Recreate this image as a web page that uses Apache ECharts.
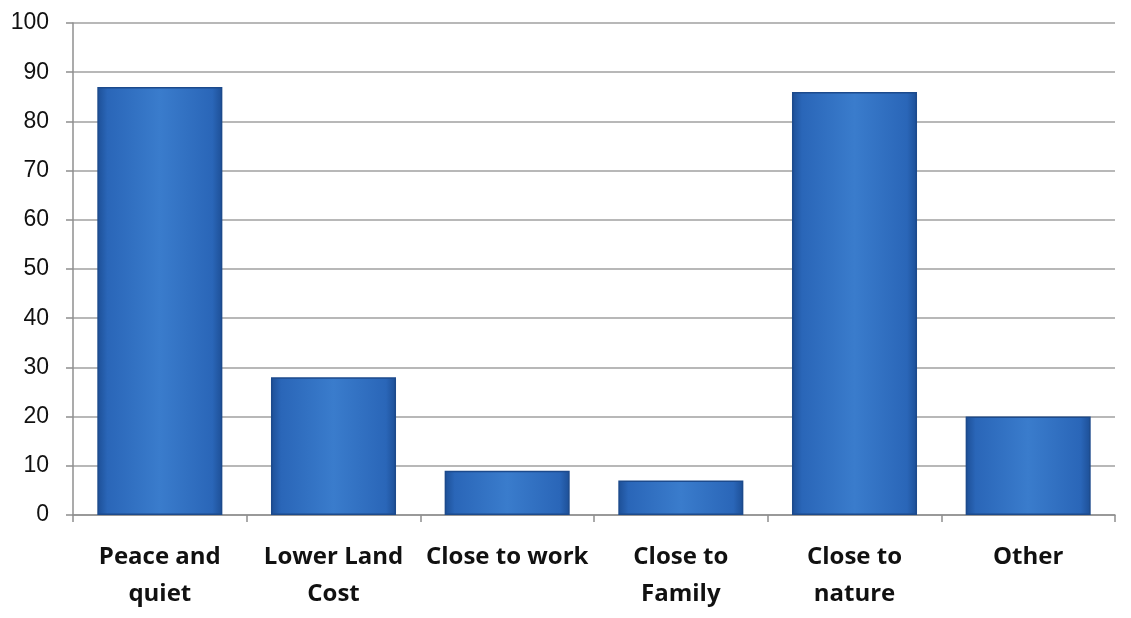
<!DOCTYPE html>
<html>
<head>
<meta charset="utf-8">
<script src="https://cdn.jsdelivr.net/npm/echarts@6/dist/echarts.min.js"></script>
<style>
  html, body { margin: 0; padding: 0; background: #ffffff; }
  #chart { width: 1131px; height: 618px; }
</style>
</head>
<body>
<div id="chart"></div>
<script>
// Reasons given for choosing a place to live
const categories = ['Peace and\nquiet', 'Lower Land\nCost', 'Close to work', 'Close to\nFamily', 'Close to\nnature', 'Other'];
const values = [87, 28, 9, 7, 86, 20];
const yMin = 0;
const yMax = 100;
const yStep = 10;

const chart = echarts.init(document.getElementById('chart'));

const barFill = new echarts.graphic.LinearGradient(0, 0, 1, 0, [
  { offset: 0, color: '#1d4f96' },
  { offset: 0.08, color: '#2a66b8' },
  { offset: 0.5, color: '#3a7ccc' },
  { offset: 0.92, color: '#2a66b8' },
  { offset: 1, color: '#1d4f96' }
]);

chart.setOption({
  animation: false,
  backgroundColor: '#ffffff',
  grid: { left: 73, right: 16, top: 23, bottom: 103, containLabel: false },
  xAxis: {
    type: 'category',
    data: categories,
    axisLine: { show: true, lineStyle: { color: '#8f8f8f', width: 1.5 } },
    axisTick: { show: true, length: 7, lineStyle: { color: '#8f8f8f', width: 1.5 } },
    axisLabel: {
      interval: 0,
      margin: 24,
      color: '#111111',
      fontFamily: '"Liberation Sans Narrow", "Open Sans", sans-serif',
      fontWeight: 'bold',
      fontSize: 24,
      lineHeight: 37
    }
  },
  yAxis: {
    type: 'value',
    min: yMin,
    max: yMax,
    interval: yStep,
    axisLine: { show: true, lineStyle: { color: '#8f8f8f', width: 1.5 } },
    axisTick: { show: true, length: 7, lineStyle: { color: '#8f8f8f', width: 1.5 } },
    splitLine: { show: true, lineStyle: { color: '#a0a0a0', width: 1.5 } },
    axisLabel: {
      margin: 24,
      color: '#111111',
      fontFamily: '"Liberation Sans", "Open Sans", sans-serif',
      fontSize: 23
    }
  },
  series: [{
    type: 'bar',
    data: values,
    barWidth: '72%',
    itemStyle: {
      color: barFill,
      borderColor: '#1c4a8c',
      borderWidth: 1.5
    }
  }]
});
</script>
</body>
</html>
